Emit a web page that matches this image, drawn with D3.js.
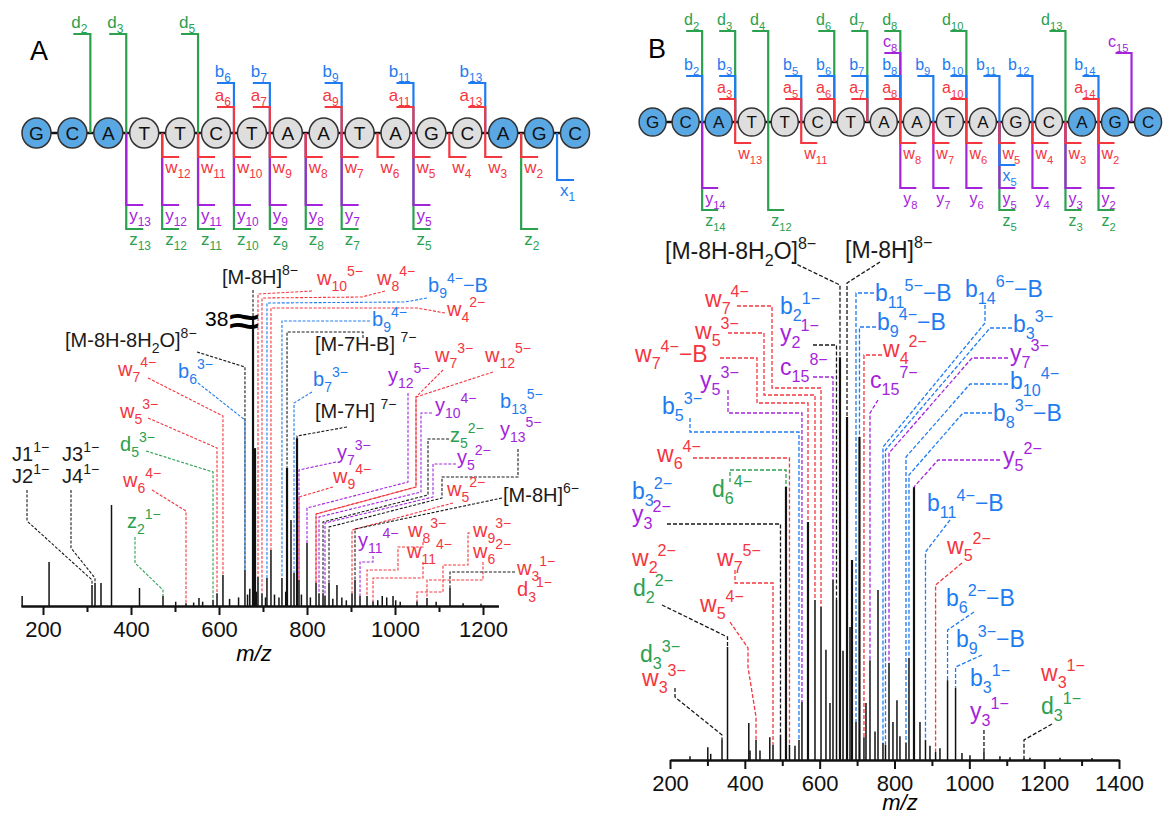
<!DOCTYPE html>
<html lang="en">
<head>
<meta charset="UTF-8">
<title>Oligonucleotide fragmentation spectra</title>
<script src="https://d3js.org/d3.v7.min.js"></script>
<style>
  body { margin: 0; background: #fff; }
  svg { font-family: "Liberation Sans", Arial, sans-serif; }
  text { white-space: pre; }
</style>
</head>
<body>
<svg id="fig" width="1166" height="818"></svg>
<script>
// ---------- data ----------
const sequence = "GCATTCTAATAGCAGC".split("");
const blueResidues = [0, 1, 2, 13, 14, 15];

// fragment ions shown on the sequence diagrams: [ion, index]
const fragA = [["d",2],["d",3],["d",5],["b",6],["a",6],["b",7],["a",7],["b",9],["a",9],["b",11],["a",11],["b",13],["a",13],
  ["y",13],["z",13],["w",12],["y",12],["z",12],["w",11],["y",11],["z",11],["w",10],["y",10],["z",10],["w",9],["y",9],["z",9],
  ["w",8],["y",8],["z",8],["w",7],["y",7],["z",7],["w",6],["w",5],["y",5],["z",5],["w",4],["w",3],["w",2],["z",2],["x",1]];
const fragB = [["d",2],["b",2],["d",3],["b",3],["a",3],["d",4],["b",5],["a",5],["d",6],["b",6],["a",6],["d",7],["b",7],["a",7],
  ["d",8],["c",8],["b",8],["a",8],["b",9],["d",10],["b",10],["a",10],["b",11],["b",12],["d",13],["b",14],["a",14],["c",15],
  ["y",14],["z",14],["w",13],["z",12],["w",11],["w",8],["y",8],["w",7],["y",7],["w",6],["y",6],["w",5],["x",5],["y",5],["z",5],
  ["w",4],["y",4],["w",3],["y",3],["z",3],["w",2],["y",2],["z",2]];

// spectrum A peaks (m/z, relative intensity)
const peaksA_mz  = [152.6,213.8,311.4,318.2,331.8,355.7,419.3,472.7,501.6,525,542.4,554.5,562.8,586.4,595.5,609,624,644.5,659,664.9,670,
  677.3,681.8,685.3,688.6,697.7,705.7,709,718.1,726.1,736.3,743.1,751.6,754.6,763.6,770.5,777.3,781.8,787.3,800,807.7,820.5,827.3,
  836.4,840.9,850,858.7,868.1,879.2,889.4,902.3,909.1,920.5,936.4,950,960.8,971,981.2,995.5,1001.6,1011.8,1050,1072.7,1093.5,1125,
  1154.7,1195.5];
const peaksA_int = [3.5,15.4,7.3,8,8,35.3,6.3,3.5,1.5,1,1.2,2.8,1.5,2.1,4.5,10.8,2.5,3,12.6,4,6,
  100,55.2,5,10.1,4.5,3,9.8,19.6,4,3,9.8,5,48.3,30.1,11.5,58.7,9.1,4,22,3,8,4.5,
  4.5,3.5,8,2.5,7.3,3,2,4.5,9.1,3.5,3.5,1.7,2,3.5,3,3.5,2,1.5,1.7,2.8,1.5,6.3,
  1,0.8];

// spectrum B peaks (m/z, relative intensity)
const peaksB_mz  = [253.4,301,308.8,339,353.7,410.6,413.8,429.9,440.5,466.7,475.3,495.3,510,519.3,534,544.7,552.7,568.8,587.5,
  603.6,616.8,627.6,635.6,645,654.3,662.4,673.1,681.1,686.4,697.1,706.4,718.4,723.8,734.5,747.9,755.9,769.2,775.9,785.3,795.9,806.6,
  814.6,830.7,838.7,852.1,868.1,882.8,894.8,909.8,921.5,941.8,963.2,980.3,1001.7,1039.1,1081.8,1108.6,1146.1,1162,1242.3,1327.8];
const peaksB_int = [0.8,2.7,1.3,4.2,23.8,7.8,2,4.2,2,4.8,3.2,5.3,57.5,3.2,3,4.2,12.2,50.1,33.7,
  32.2,23.2,12,37.9,33.7,84.8,23,72.2,28,42.1,8,68,4.8,12,21,6,35.8,3.6,3.2,20.4,8,12.6,
  5,3.6,21.5,57.5,8,4.2,3,1.7,2.5,16.8,15.2,1.5,1,1.7,0.8,0.6,0.6,0.5,0.5,0.4];

// annotated ions (label markup, assigned m/z; null = label shares a leader)
const annA_text = ["[M-8H]^{8−}","w_{10}^{5−}","w_{8}^{4−}","b_{9}^{4−}−B","w_{4}^{2−}","b_{9}^{4−}","[M-7H-B] ^{7−}",
  "w_{7}^{3−}","w_{12}^{5−}","y_{12}^{5−}","b_{7}^{3−}","[M-7H] ^{7−}","y_{10}^{4−}","b_{13}^{5−}","z_{5}^{2−}","y_{13}^{5−}",
  "y_{7}^{3−}","y_{5}^{2−}","w_{9}^{4−}","w_{5}^{2−}","[M-8H]^{6−}","y_{11}^{4−}","w_{8}^{3−}","w_{11}^{4−}","w_{9}^{3−}",
  "w_{6}^{2−}","w_{3}^{1−}","d_{3}^{1−}","[M-8H-8H_{2}O]^{8−}","b_{6}^{3−}","w_{7}^{4−}","w_{5}^{3−}","d_{5}^{3−}",
  "w_{6}^{4−}","z_{2}^{1−}","J1^{1−}","J2^{1−}","J3^{1−}","J4^{1−}"];
const annA_mz = [677.3,688.6,697.7,709,718.1,743.1,754.6,820.5,820.5,800,770.5,777.3,827.3,null,836.4,850,
  781.8,840.9,781.8,902.3,909.1,920.5,936.4,950,1050,1072.7,1125,null,659,659,609,595.5,586.4,
  525,472.7,null,311.4,null,318.2];

const annB_text = ["[M-8H-8H_{2}O]^{8−}","[M-8H]^{8−}","b_{2}^{1−}","y_{2}^{1−}","c_{15}^{8−}","w_{7}^{4−}","w_{5}^{3−}",
  "w_{7}^{4−}−B","y_{5}^{3−}","b_{5}^{3−}","w_{6}^{4−}","d_{6}^{4−}","b_{3}^{2−}","y_{3}^{2−}","w_{7}^{5−}","w_{2}^{2−}",
  "d_{2}^{2−}","w_{5}^{4−}","d_{3}^{3−}","w_{3}^{3−}","b_{11}^{5−}−B","b_{9}^{4−}−B","w_{4}^{2−}","c_{15}^{7−}",
  "b_{14}^{6−}−B","b_{3}^{3−}","y_{7}^{3−}","b_{10}^{4−}","b_{8}^{3−}−B","y_{5}^{2−}","b_{11}^{4−}−B","w_{5}^{2−}",
  "b_{6}^{2−}−B","b_{9}^{3−}−B","b_{3}^{1−}","y_{3}^{1−}","w_{3}^{1−}","d_{3}^{1−}"];
const annB_mz = [654.3,673.1,null,645,635.6,603.6,587.5,568.8,552.7,544.7,519.3,510,null,495.3,475.3,null,
  353.7,429.9,null,339,697.1,706.4,718.4,734.5,769.2,775.9,785.3,830.7,838.7,852.1,882.8,909.8,941.8,963.2,null,1039.1,null,1146.1];

// ---------- layout (label anchor, leader waypoints; null x = peak position) ----------
const layoutA = [
  {x:222,y:284,p:[[null,290]]}, {x:317,y:285,p:[[312,291],[null,294]]}, {x:377,y:285,p:[[385,291],[362,297],[null,298]]},
  {x:428,y:292,p:[[427,298],[405,302],[null,303]]}, {x:447,y:316,p:[[445,313],[417,308],[null,308]]},
  {x:372,y:326,p:[[370,321],[null,321]]}, {x:315,y:351,p:[[363,338],[363,332],[null,332]]},
  {x:435,y:362,p:[[443,370],[416,397],[416,487],[null,514]]}, {x:485,y:362,p:[[493,372],[416,397],[416,487],[null,514]]},
  {x:388,y:382,p:[[408,393],[408,482],[null,508]]}, {x:313,y:386,p:[[312,392],[null,403]]},
  {x:315,y:418,p:[[347,427],[null,436]]}, {x:435,y:412,p:[[432,413],[421,413],[421,492],[null,517]]},
  {x:500,y:408}, {x:450,y:442,p:[[449,439],[428,439],[428,495],[null,522]],lc:"k"},
  {x:500,y:436,p:[[518,449],[518,477],[442,477],[442,498],[null,527]],lc:"k"},
  {x:337,y:459,p:[[336,462],[null,470]]}, {x:457,y:464,p:[[456,464],[433,464],[433,497],[null,523]]},
  {x:333,y:483,p:[[333,487],[null,497]]}, {x:447,y:496,p:[[453,503],[null,530]]}, {x:503,y:502,p:[[502,498],[null,529]]},
  {x:358,y:547,p:[[373,556],[373,562],[null,562]]}, {x:408,y:537,p:[[423,542],[423,547],[398,547],[398,570],[null,570]]},
  {x:407,y:558,p:[[423,562],[423,578],[null,578]]}, {x:473,y:537,p:[[470,533],[468,533],[468,565],[443,565],[443,592],[null,592]]},
  {x:473,y:558,p:[[483,562],[483,580],[null,580]]}, {x:517,y:575,p:[[515,572],[null,572]],lc:"k"}, {x:517,y:596,tc:"r"},
  {x:65,y:347,p:[[197,352],[null,367]]}, {x:178,y:378,p:[[198,383],[null,420]]}, {x:118,y:376,p:[[148,378],[null,416]]},
  {x:120,y:418,p:[[148,418],[null,448]]}, {x:120,y:451,p:[[146,451],[null,472]]}, {x:123,y:487,p:[[152,490],[null,511]]},
  {x:127,y:528,p:[[135,537],[135,563],[null,590]]}, {x:12,y:461}, {x:12,y:483,p:[[27,490],[27,521],[null,580]]},
  {x:62,y:461}, {x:62,y:483,p:[[71,490],[71,548],[null,578]]}
];
const layoutB = [
  {x:665,y:259,p:[[792,262],[null,285]]}, {x:845,y:258,p:[[880,262],[null,283]]}, {x:780,y:314},
  {x:780,y:341,p:[[813,345],[null,345]],lc:"k"}, {x:780,y:375,p:[[813,377],[null,377]]},
  {x:705,y:307,p:[[737,306],[772,306],[772,388],[null,388]]}, {x:695,y:339,p:[[728,333],[764,333],[764,395],[null,395]]},
  {x:635,y:362,p:[[720,358],[757,358],[757,403],[null,403]]}, {x:700,y:388,p:[[728,390],[728,413],[null,413]]},
  {x:662,y:414,p:[[690,418],[690,432],[null,432]]}, {x:657,y:462,p:[[693,458],[null,458]]},
  {x:712,y:497,p:[[730,482],[730,470],[null,470]]}, {x:632,y:499}, {x:632,y:522,p:[[667,524],[null,524]],lc:"k"},
  {x:717,y:566,p:[[735,570],[735,583],[null,583]]}, {x:632,y:566}, {x:633,y:596,p:[[662,605],[null,637]],lc:"k"},
  {x:700,y:612,p:[[730,622],[748,648],[748,667],[null,717]]}, {x:640,y:662}, {x:642,y:686,p:[[675,688],[675,697],[null,735]],lc:"k"},
  {x:875,y:301,p:[[874,293],[null,293]]}, {x:877,y:330,p:[[876,327],[null,327]]}, {x:883,y:357,p:[[882,355],[null,355]]},
  {x:870,y:388,p:[[878,400],[null,413]]}, {x:965,y:297,p:[[985,305],[985,323],[null,447]]},
  {x:1013,y:332,p:[[1012,328],[990,328],[null,450]]}, {x:1010,y:361,p:[[1008,358],[972,358],[null,453]]},
  {x:1010,y:389,p:[[1008,384],[970,384],[null,457]]}, {x:993,y:421,p:[[992,413],[963,413],[null,475]]},
  {x:1003,y:464,p:[[1000,460],[938,460],[null,487]]}, {x:927,y:511,p:[[950,520],[null,552]]},
  {x:947,y:554,p:[[962,563],[null,585]]}, {x:946,y:606,p:[[974,612],[null,630]]}, {x:956,y:647,p:[[982,655],[null,667]]},
  {x:970,y:686}, {x:970,y:719,p:[[null,730]],lc:"k"}, {x:1041,y:681}, {x:1041,y:714,p:[[1052,724],[null,740]],lc:"k"}
];

const colors = {r:"#f4363f", b:"#1f7cf0", p:"#a424dc", g:"#2ba04f", k:"#1a1a1a"};
function ionColor(lab) {
  const c = lab[0];
  if ("wa".includes(c)) return colors.r;
  if ("bx".includes(c)) return colors.b;
  if ("yc".includes(c)) return colors.p;
  if ("dz".includes(c)) return colors.g;
  return colors.k;
}

const svg = d3.select("#fig");

// text with _{sub} and ^{sup} markup
function rich(sel, str, fs) {
  const parts = str.match(/_\{[^}]*\}|\^\{[^}]*\}|[^_^]+/g);
  let off = 0;
  parts.forEach(p => {
    let t = p, size = fs, target = 0;
    if (p[0] === "_") { t = p.slice(2, -1); size = fs * 0.7; target = fs * 0.3; }
    else if (p[0] === "^") { t = p.slice(2, -1); size = fs * 0.7; target = -fs * 0.45; }
    sel.append("tspan").attr("dy", target - off).attr("font-size", size).text(t);
    off = target;
  });
}

// ---------- sequence diagrams ----------
function drawSequence(cfg, frags) {
  const g = svg.append("g");
  const cx = i => cfg.x0 + i * cfg.step;
  const n = sequence.length;
  const five = "abcd";
  const items = frags.map(([ion, k]) => {
    const up = five.includes(ion);
    const gap = up ? k - 0.5 : n - k - 0.5;
    return {ion, k, up, x: cx(gap), end: cfg.lv[ion]};
  }).sort((a, b) => Math.abs(b.end - cfg.yb) - Math.abs(a.end - cfg.yb));

  g.append("line").attr("x1", cx(0)).attr("x2", cx(n - 1)).attr("y1", cfg.yb).attr("y2", cfg.yb)
    .attr("stroke", "#111").attr("stroke-width", 2.6);

  items.forEach(f => {
    const col = ionColor(f.ion);
    const tx = f.up ? f.x - cfg.tick : f.x + cfg.tick;
    g.append("path").attr("d", `M${f.x},${cfg.yb}V${f.end}H${tx}`)
      .attr("fill", "none").attr("stroke", col).attr("stroke-width", 2.2);
    const t = g.append("text").attr("fill", col).attr("font-size", cfg.fs)
      .attr("x", f.up ? f.x - 3 : f.x + 3)
      .attr("y", f.up ? f.end - 6 : f.end + 16)
      .attr("text-anchor", f.up ? "end" : "start");
    rich(t, `${f.ion}_{${f.k}}`, cfg.fs);
  });

  const res = g.selectAll(".res").data(sequence).join("g").attr("transform", (d, i) => `translate(${cx(i)},${cfg.yb})`);
  res.append("ellipse").attr("rx", cfg.rx).attr("ry", cfg.ry)
    .attr("fill", (d, i) => blueResidues.includes(i) ? "#59a8e4" : "#dedede")
    .attr("stroke", "#333").attr("stroke-width", 1.5);
  res.append("text").attr("text-anchor", "middle").attr("y", cfg.seqFs * 0.36)
    .attr("font-size", cfg.seqFs).attr("fill", "#111").text(d => d);

  svg.append("text").attr("x", cfg.letterX).attr("y", cfg.letterY).attr("font-size", 27).text(cfg.letter);
}

drawSequence({x0:36.5, step:35.9, yb:133, rx:14.5, ry:15, fs:17, seqFs:19, tick:17, letter:"A", letterX:30, letterY:60,
  lv:{d:34, b:83, a:107, w:157, x:180, y:205, z:229}}, fragA);
drawSequence({x0:652.6, step:33.03, yb:122, rx:13.5, ry:14, fs:16, seqFs:17, tick:16, letter:"B", letterX:648, letterY:58,
  lv:{d:31, c:53, b:76, a:99, w:143, x:165, y:188, z:210}}, fragB);

// ---------- spectra ----------
function drawSpectrum(cfg, mz, inten, labs, lmz, lay) {
  const g = svg.append("g");
  const x = d3.scaleLinear().domain(cfg.dom).range(cfg.rng);
  const y = d3.scaleLinear().domain([0, 100]).range([cfg.base, cfg.top]);

  g.selectAll(".pk").data(mz).join("line")
    .attr("x1", d => x(d)).attr("x2", d => x(d))
    .attr("y1", y(0)).attr("y2", (d, i) => y(inten[i]))
    .attr("stroke", "#111").attr("stroke-width", (d, i) => inten[i] > 40 ? 2.2 : 1.5);

  const nearest = m => d3.minIndex(mz, d => Math.abs(d - m));
  const line = d3.line();
  labs.forEach((lab, i) => {
    const L = lay[i];
    const tcol = L.tc ? colors[L.tc] : ionColor(lab);
    if (lmz[i] != null && L.p) {
      const k = nearest(lmz[i]);
      const xp = x(mz[k]), yp = y(inten[k]);
      const pts = L.p.map(([a, b]) => [a == null ? xp : a, b]);
      pts.push([xp, yp]);
      g.append("path").attr("d", line(pts)).attr("fill", "none")
        .attr("stroke", L.lc ? colors[L.lc] : tcol).attr("stroke-width", cfg.lw)
        .attr("stroke-dasharray", cfg.dash);
    }
    const t = g.append("text").attr("x", L.x).attr("y", L.y).attr("fill", tcol).attr("font-size", cfg.fs);
    rich(t, lab, cfg.fs);
  });

  const major = g.append("g").attr("transform", `translate(0,${cfg.base})`)
    .call(d3.axisBottom(x).tickValues(cfg.major).tickSize(9).tickSizeOuter(0).tickPadding(6).tickFormat(d3.format("d")));
  g.append("g").attr("transform", `translate(0,${cfg.base})`)
    .call(d3.axisBottom(x).tickValues(cfg.minor).tickSize(6).tickSizeOuter(0).tickFormat(""));
  g.selectAll(".domain, .tick line").attr("stroke", "#111").attr("stroke-width", 2);
  major.selectAll("text").attr("font-size", 22).attr("font-family", "Liberation Sans, Arial, sans-serif").attr("fill", "#111");

  g.append("text").attr("x", cfg.mzX).attr("y", cfg.base + cfg.mzDy)
    .attr("text-anchor", "middle").attr("font-size", 22).attr("font-style", "italic").text("m/z");
  return {x, y, g};
}

const specA = drawSpectrum({dom:[150, 1235], rng:[21, 498.4], base:606, top:320, fs:20, lw:1.1, dash:"3,1.6", mzX:254, mzDy:55,
  major:[200,400,600,800,1000,1200], minor:[300,500,700,900,1100]}, peaksA_mz, peaksA_int, annA_text, annA_mz, layoutA);
const specB = drawSpectrum({dom:[200, 1400], rng:[670, 1119], base:760, top:285, fs:23, lw:1.3, dash:"4,2", mzX:900, mzDy:50,
  major:[200,400,600,800,1000,1200,1400], minor:[300,500,700,900,1100,1300]}, peaksB_mz, peaksB_int, annB_text, annB_mz, layoutB);

// axis break on the clipped [M-8H]8- peak of spectrum A
specA.g.append("text").attr("x", 205).attr("y", 326).attr("font-size", 21).text("38");
specA.g.append("text").attr("x", specA.x(677.3) - 24).attr("y", specA.y(100) + 14)
  .attr("font-size", 38).attr("font-weight", "bold").attr("textLength", 30).attr("lengthAdjust", "spacingAndGlyphs").text("≈");
</script>
</body>
</html>
